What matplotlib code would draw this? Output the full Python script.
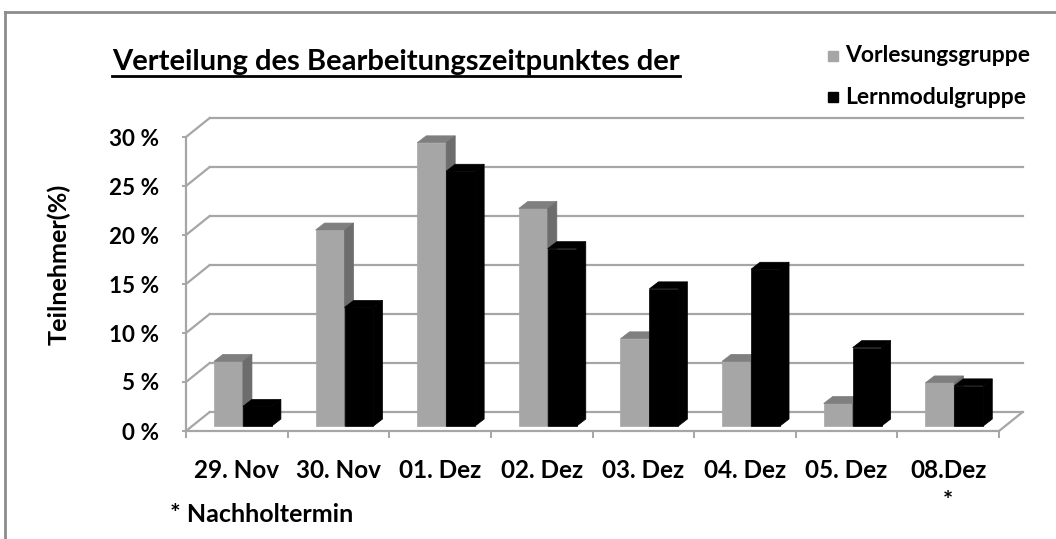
import numpy as np
import matplotlib
matplotlib.use("Agg")
import matplotlib.pyplot as plt
from matplotlib.patches import Polygon
from matplotlib.lines import Line2D

plt.rcParams['font.family'] = ['Lato', 'DejaVu Sans']

# daten
tage = ['29. Nov', '30. Nov', '01. Dez', '02. Dez', '03. Dez', '04. Dez', '05. Dez', '08.Dez\n*']
vorlesung = [6.6, 20.0, 28.9, 22.2, 8.9, 6.6, 2.3, 4.4]
lernmodul = [2.0, 12.1, 26.0, 18.1, 14.0, 16.0, 8.0, 4.1]
yticks = [0, 5, 10, 15, 20, 25, 30]
ytick_labels = ['%d %%' % v for v in yticks]

W, H = 1056, 539
fig = plt.figure(figsize=(W / 100, H / 100), dpi=100)
ax = fig.add_axes([186 / W, (H - 431) / H, 813 / W, 294 / H])
n = len(tage)
ax.set_xlim(0, n)
ax.set_ylim(0, 30)
for s in ax.spines.values():
    s.set_visible(False)


# schriftgröße so wählen, dass der text eine bestimmte breite (pixel) hat
def groesse(txt, breite, weight='bold'):
    t = fig.text(0, 0, txt, fontsize=20, fontweight=weight)
    fig.canvas.draw()
    w = t.get_window_extent().width
    t.remove()
    return 20 * breite / w


grid_c = '#a6a6a6'
# tiefe der rückwand (in daten-einheiten)
dx, dy = 0.232, 1.93
# balken sitzen etwas hinter der vorderkante
bx, by = 0.06, 0.51
# tiefe der balken selbst
sx, sy = 0.089, 0.71

# rückwand + linke wand
for v in yticks:
    ax.plot([dx, n + dx], [v + dy, v + dy], color=grid_c, lw=1.6, clip_on=False, zorder=1)
    ax.plot([0, dx], [v, v + dy], color=grid_c, lw=1.6, clip_on=False, zorder=1)
ax.plot([0, 0], [0, 30], color=grid_c, lw=1.6, clip_on=False, zorder=1)
ax.plot([0, n], [0, 0], color=grid_c, lw=1.6, clip_on=False, zorder=1)
ax.plot([n, n + dx], [0, dy], color=grid_c, lw=1.6, clip_on=False, zorder=1)


def balken(x0, w, h, front, top, side, z):
    x = x0 + bx
    b = by
    ax.bar(x, h, width=w, bottom=b, align='edge', color=front, ec=front, lw=0.5, zorder=z)
    ax.add_patch(Polygon([(x, b + h), (x + sx, b + h + sy), (x + w + sx, b + h + sy), (x + w, b + h)],
                         closed=True, fc=top, ec=top, lw=0.5, zorder=z, clip_on=False))
    ax.add_patch(Polygon([(x + w, b), (x + w + sx, b + sy), (x + w + sx, b + h + sy), (x + w, b + h)],
                         closed=True, fc=side, ec=side, lw=0.5, zorder=z, clip_on=False))


bw = 0.285
for i in range(n):
    balken(i + 0.5 - bw, bw, vorlesung[i], '#a6a6a6', '#7f7f7f', '#6d6d6d', 3 + 2 * i)
    balken(i + 0.5, bw, lernmodul[i], '#000000', '#000000', '#000000', 4 + 2 * i)

# achsenbeschriftung
fs_y = groesse('30 %', 50)
fs_x = groesse('29. Nov', 85)
ax.set_yticks(yticks)
ax.set_yticklabels(ytick_labels, fontsize=fs_y, fontweight='bold')
ax.tick_params(axis='y', length=3, color=grid_c, width=1.4, pad=16.5)
ax.set_xticks(np.arange(n) + 0.5)
ax.set_xticklabels(tage, fontsize=fs_x, fontweight='bold', linespacing=1.45)
ax.tick_params(axis='x', length=0, pad=20)
ax.set_xticks(np.arange(n + 1), minor=True)
ax.tick_params(axis='x', which='minor', length=5, color=grid_c, width=1.4)

fig.text(59 / W, 1 - 264 / H, 'Teilnehmer(%)', rotation=90, fontsize=groesse('Teilnehmer(%)', 162),
         fontweight='bold', ha='center', va='center')

titel = fig.text(112 / W, 1 - 62 / H, 'Verteilung des Bearbeitungszeitpunktes der',
                 fontsize=groesse('Verteilung des Bearbeitungszeitpunktes der', 570),
                 fontweight='bold', ha='left', va='center')
fig.canvas.draw()
bb = titel.get_window_extent().transformed(fig.transFigure.inverted())
fig.add_artist(Line2D([bb.x0, bb.x1], [bb.y0 - 1 / H, bb.y0 - 1 / H], color='black', lw=2))

fig.text(170 / W, 1 - 515 / H, '* Nachholtermin', fontsize=groesse('* Nachholtermin', 183),
         fontweight='bold', ha='left', va='center')

# legende
fs_l = groesse('Vorlesungsgruppe', 185)
for j, (name, c) in enumerate([('Vorlesungsgruppe', '#a6a6a6'), ('Lernmodulgruppe', '#000000')]):
    y = 1 - (56 + 41 * j) / H
    fig.add_artist(plt.Rectangle((828 / W, y - 5 / H), 10 / W, 10 / H, color=c, transform=fig.transFigure))
    fig.text(845 / W, y, name, fontsize=fs_l, fontweight='bold', ha='left', va='center')

# rahmen
fig.add_artist(Line2D([5 / W, 1], [1 - 12 / H, 1 - 12 / H], color='#8c8c8c', lw=2))
fig.add_artist(Line2D([5 / W, 5 / W], [0, 1 - 12 / H], color='#8c8c8c', lw=2))

fig.savefig('out.png', dpi=100)
